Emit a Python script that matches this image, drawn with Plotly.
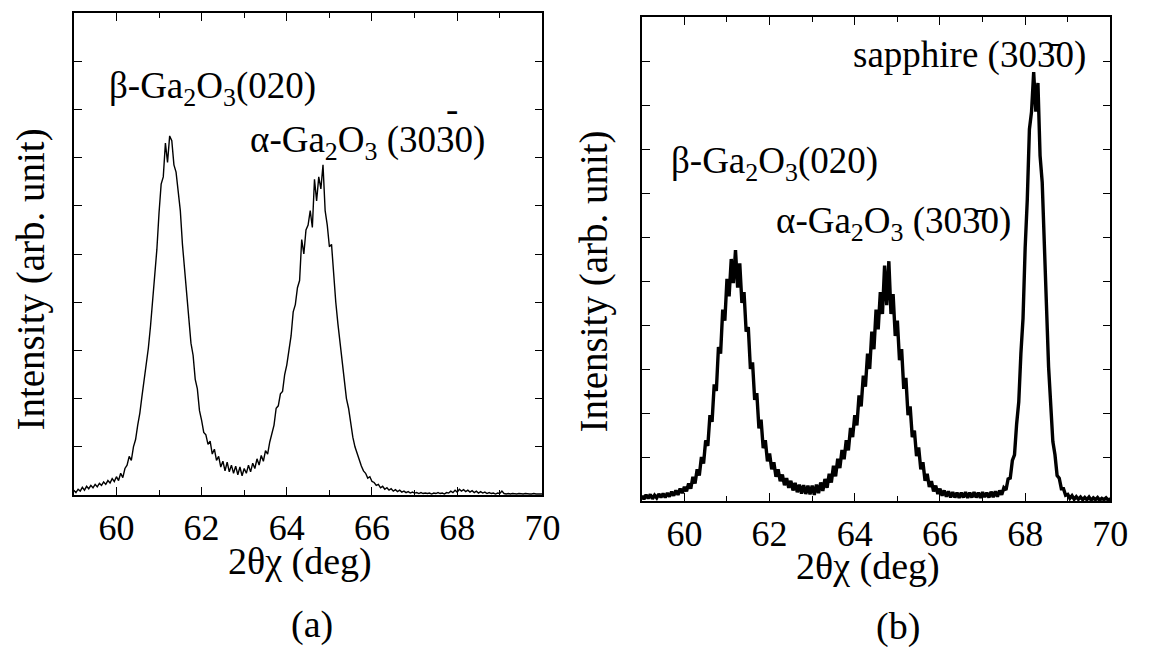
import numpy as np
import plotly.graph_objects as go

# ---- data ----
# 2theta-chi scan grid (deg): 59.00 ... 70.00 every 0.05 deg
TWO_THETA_START = 59.0
TWO_THETA_STEP = 0.05

# (a) intensity (arb. unit), one row per degree
intensity_a = [
    0.10, 0.05, 0.12, 0.08, 0.16, 0.10, 0.18, 0.13, 0.20, 0.15, 0.22, 0.17, 0.24, 0.20, 0.27, 0.22, 0.30, 0.25, 0.34, 0.28,  # 59
    0.38, 0.30, 0.45, 0.36, 0.55, 0.62, 0.80, 0.72, 1.00, 1.15, 1.45, 1.70, 2.05, 2.35, 2.75, 3.05, 3.50, 4.00, 4.50, 5.10,  # 60
    5.85, 6.45, 6.60, 7.30, 6.90, 7.45, 7.35, 6.85, 6.70, 6.35, 5.90, 5.20, 4.70, 4.10, 3.55, 3.15, 2.90, 2.40, 2.20, 1.75,  # 61
    1.55, 1.30, 1.25, 1.05, 1.12, 0.85, 0.95, 0.72, 0.80, 0.58, 0.70, 0.50, 0.68, 0.48, 0.62, 0.45, 0.60, 0.42, 0.58, 0.40,  # 62
    0.55, 0.45, 0.62, 0.48, 0.66, 0.55, 0.75, 0.62, 0.82, 0.70, 0.92, 0.85, 1.10, 1.30, 1.45, 1.80, 1.85, 2.10, 2.15, 2.50,  # 63
    2.70, 3.00, 3.30, 3.80, 3.95, 4.30, 4.45, 5.30, 5.00, 5.50, 5.60, 5.90, 5.55, 6.55, 6.10, 6.60, 6.35, 6.85, 5.90, 5.60,  # 64
    5.15, 5.20, 4.50, 4.00, 3.55, 3.15, 2.75, 2.40, 2.00, 1.80, 1.45, 1.20, 1.00, 0.85, 0.72, 0.60, 0.50, 0.45, 0.35, 0.38,  # 65
    0.28, 0.26, 0.20, 0.22, 0.15, 0.18, 0.12, 0.15, 0.10, 0.13, 0.08, 0.11, 0.07, 0.10, 0.06, 0.08, 0.05, 0.07, 0.04, 0.06,  # 66
    0.04, 0.05, 0.03, 0.05, 0.03, 0.04, 0.03, 0.04, 0.02, 0.04, 0.03, 0.05, 0.03, 0.04, 0.02, 0.05, 0.04, 0.08, 0.05, 0.10,  # 67
    0.06, 0.12, 0.08, 0.11, 0.07, 0.10, 0.06, 0.09, 0.05, 0.08, 0.04, 0.07, 0.04, 0.06, 0.03, 0.05, 0.03, 0.04, 0.02, 0.04,  # 68
    0.03, 0.08, 0.03, 0.02, 0.03, 0.02, 0.03, 0.02, 0.02, 0.03, 0.02, 0.02, 0.03, 0.02, 0.02, 0.02, 0.03, 0.02, 0.02, 0.02,  # 69
    0.02,  # 70
]

# (b) intensity (arb. unit), one row per degree
intensity_b = [
    0.12, 0.04, 0.14, 0.06, 0.15, 0.05, 0.13, 0.07, 0.16, 0.08, 0.17, 0.08, 0.18, 0.10, 0.21, 0.12, 0.24, 0.14, 0.28, 0.18,  # 59
    0.32, 0.22, 0.40, 0.28, 0.55, 0.40, 0.72, 0.58, 1.00, 0.85, 1.38, 1.25, 1.95, 1.80, 2.65, 2.50, 3.50, 3.35, 4.35, 4.10,  # 60
    5.05, 4.65, 5.50, 4.95, 5.70, 4.85, 5.40, 4.50, 4.75, 3.85, 3.95, 3.00, 3.15, 2.30, 2.45, 1.65, 1.85, 1.20, 1.38, 0.90,  # 61
    1.08, 0.72, 0.88, 0.55, 0.72, 0.45, 0.60, 0.36, 0.52, 0.30, 0.46, 0.24, 0.41, 0.20, 0.37, 0.17, 0.36, 0.16, 0.35, 0.15,  # 62
    0.35, 0.14, 0.37, 0.18, 0.42, 0.23, 0.50, 0.30, 0.62, 0.42, 0.80, 0.56, 0.96, 0.75, 1.16, 0.95, 1.38, 1.15, 1.66, 1.45,  # 63
    1.95, 1.72, 2.40, 2.15, 2.85, 2.60, 3.35, 3.00, 3.85, 3.45, 4.35, 3.90, 4.75, 4.25, 5.35, 4.45, 5.45, 4.25, 4.70, 3.75,  # 64
    4.10, 3.20, 3.45, 2.55, 2.80, 1.95, 2.15, 1.45, 1.60, 1.02, 1.22, 0.72, 0.88, 0.46, 0.62, 0.32, 0.45, 0.22, 0.35, 0.16,  # 65
    0.28, 0.12, 0.24, 0.10, 0.22, 0.08, 0.20, 0.08, 0.19, 0.07, 0.19, 0.08, 0.20, 0.07, 0.19, 0.08, 0.20, 0.08, 0.19, 0.07,  # 66
    0.20, 0.09, 0.19, 0.08, 0.21, 0.09, 0.22, 0.10, 0.24, 0.14, 0.30, 0.25, 0.50, 0.52, 0.92, 1.05, 1.75, 2.25, 3.35, 4.15,  # 67
    5.75, 6.85, 8.45, 8.85, 9.75, 8.85, 9.50, 7.85, 7.25, 5.55, 4.45, 3.05, 2.25, 1.35, 1.05, 0.58, 0.52, 0.28, 0.28, 0.13,  # 68
    0.15, 0.06, 0.12, 0.04, 0.10, 0.04, 0.09, 0.03, 0.08, 0.03, 0.09, 0.02, 0.07, 0.03, 0.08, 0.02, 0.06, 0.03, 0.07, 0.02,  # 69
    0.05,  # 70
]

x_tick_vals = [60, 62, 64, 66, 68, 70]
x_tick_text = ["60", "62", "64", "66", "68", "70"]

x_title = "2θχ (deg)"
y_title = "Intensity (arb. unit)"
panel_labels = ["(a)", "(b)"]
labels_a = ["β-Ga<sub>2</sub>O<sub>3</sub>(020)", "α-Ga<sub>2</sub>O<sub>3</sub> (3030)"]
labels_b = ["sapphire (303\u03040)", "β-Ga<sub>2</sub>O<sub>3</sub>(020)", "α-Ga<sub>2</sub>O<sub>3</sub> (303\u03040)"]

two_theta_a = np.round(TWO_THETA_START + TWO_THETA_STEP * np.arange(len(intensity_a)), 2)
two_theta_b = np.round(TWO_THETA_START + TWO_THETA_STEP * np.arange(len(intensity_b)), 2)

# ---- figure ----
W, H = 1150, 647
FONT = "Liberation Serif, serif"


def px(x):
    return x / W


def py(y):
    return 1 - y / H


fig = go.Figure()
fig.add_trace(go.Scatter(x=two_theta_a, y=intensity_a, mode="lines",
                         line=dict(color="black", width=1.4), xaxis="x", yaxis="y",
                         showlegend=False, hoverinfo="skip"))
fig.add_trace(go.Scatter(x=two_theta_b, y=intensity_b, mode="lines",
                         line=dict(color="black", width=3.4), xaxis="x2", yaxis="y2",
                         showlegend=False, hoverinfo="skip"))

axis_common = dict(showline=True, linecolor="black", linewidth=1.5, mirror="allticks",
                   ticks="inside", tickcolor="black", tickwidth=1.2, showgrid=False,
                   zeroline=False)

xa = dict(axis_common, range=[59, 70], tickvals=x_tick_vals, ticktext=x_tick_text,
          ticklen=8, tickfont=dict(family=FONT, size=36, color="black"),
          minor=dict(dtick=1, tick0=59, ticks="inside", ticklen=5, tickcolor="black", tickwidth=1.2))
ya_common = dict(axis_common, dtick=1, tick0=0, ticklen=8, showticklabels=False)

fig.update_layout(
    width=W, height=H, margin=dict(l=0, r=0, t=0, b=0),
    paper_bgcolor="white", plot_bgcolor="white",
    font=dict(family=FONT, color="black"),
    xaxis=dict(xa, domain=[px(75), px(551)], anchor="y"),
    yaxis=dict(ya_common, range=[0, 10], domain=[py(495), py(13)], anchor="x"),
    xaxis2=dict(xa, domain=[px(652), px(1128)], anchor="y2"),
    yaxis2=dict(ya_common, range=[0, 11], domain=[py(501), py(17)], anchor="x2"),
)

ann = []


def text(t, x, y, size, xanchor="center", angle=0):
    ann.append(dict(text=t, x=px(x), y=py(y), xref="paper", yref="paper",
                    xanchor=xanchor, yanchor="middle", showarrow=False, textangle=angle,
                    font=dict(family=FONT, size=size, color="black")))


# axis titles and panel labels
text(x_title, 305, 561, 38)
text(x_title, 882, 566, 38)
text(panel_labels[0], 317, 624, 38)
text(panel_labels[1], 912, 626, 38)
text(y_title, 31, 280, 39, angle=-90)
text(y_title, 603, 282, 39, angle=-90)

# peak labels
text(labels_a[0], 109, 88, 37, xanchor="left")
text(labels_a[1], 252, 142, 37, xanchor="left")
text("-", 459, 110, 37)
text(labels_b[0], 865, 55, 37, xanchor="left")
text(labels_b[1], 680, 164, 37, xanchor="left")
text(labels_b[2], 786, 223, 37, xanchor="left")

fig.update_layout(annotations=ann)
fig.write_html("out.html")
